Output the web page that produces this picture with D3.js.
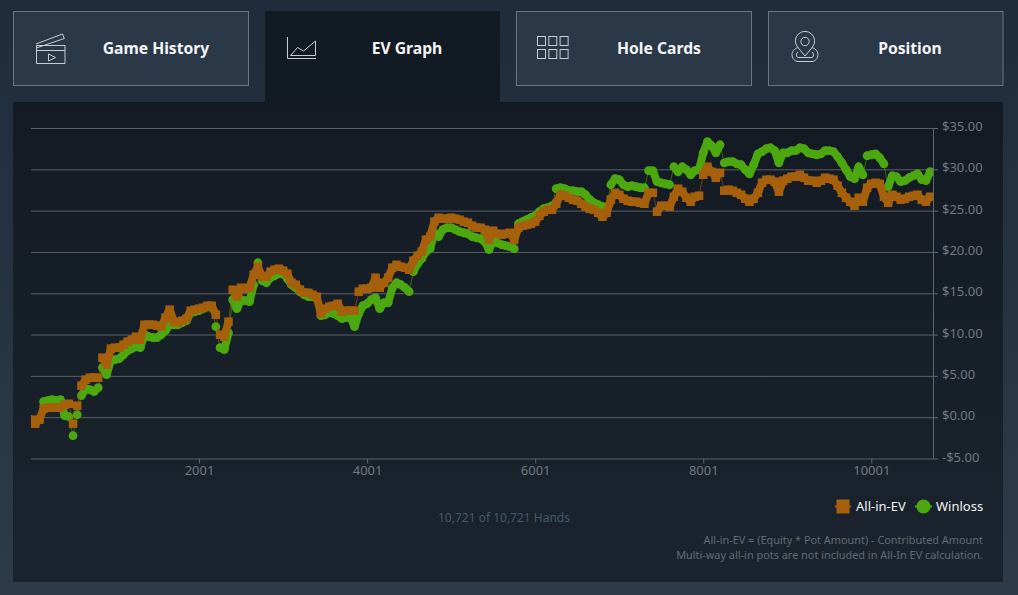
<!DOCTYPE html>
<html>
<head>
<meta charset="utf-8">
<script src="https://cdn.jsdelivr.net/npm/d3@7"></script>
<style>
  html, body { margin: 0; padding: 0; background: #1f2d3d; overflow: hidden; }
  svg { display: block; font-family: "Noto Sans", "Open Sans", sans-serif; }
</style>
</head>
<body>
<svg id="page" width="1018" height="595"></svg>
<script>
const tabNames = ['Game History', 'EV Graph', 'Hole Cards', 'Position']
const yTicks = [-5, 0, 5, 10, 15, 20, 25, 30, 35]
const xTicks = [2001, 4001, 6001, 8001, 10001]
const seriesNames = ['All-in-EV', 'Winloss']
const handsLabel = '10,721 of 10,721 Hands'
const notes = ['All-in-EV = (Equity * Pot Amount) - Contributed Amount', 'Multi-way all-in pots are not included in All-In EV calculation.']

const hands = [
    1, 51, 101, 151, 201, 251, 301, 351, 401, 451,
    501, 551, 601, 651, 701, 751, 801, 851, 901, 951,
    1001, 1051, 1101, 1151, 1201, 1251, 1301, 1351, 1401, 1451,
    1501, 1551, 1601, 1651, 1701, 1751, 1801, 1851, 1901, 1951,
    2001, 2051, 2101, 2151, 2201, 2251, 2301, 2351, 2401, 2451,
    2501, 2551, 2601, 2651, 2701, 2751, 2801, 2851, 2901, 2951,
    3001, 3051, 3101, 3151, 3201, 3251, 3301, 3351, 3401, 3451,
    3501, 3551, 3601, 3651, 3701, 3751, 3801, 3851, 3901, 3951,
    4001, 4051, 4101, 4151, 4201, 4251, 4301, 4351, 4401, 4451,
    4501, 4551, 4601, 4651, 4701, 4751, 4801, 4851, 4901, 4951,
    5001, 5051, 5101, 5151, 5201, 5251, 5301, 5351, 5401, 5451,
    5501, 5551, 5601, 5651, 5701, 5751, 5801, 5851, 5901, 5951,
    6001, 6051, 6101, 6151, 6201, 6251, 6301, 6351, 6401, 6451,
    6501, 6551, 6601, 6651, 6701, 6751, 6801, 6851, 6901, 6951,
    7001, 7051, 7101, 7151, 7201, 7251, 7301, 7351, 7401, 7451,
    7501, 7551, 7601, 7651, 7701, 7751, 7801, 7851, 7901, 7951,
    8001, 8051, 8101, 8151, 8201, 8251, 8301, 8351, 8401, 8451,
    8501, 8551, 8601, 8651, 8701, 8751, 8801, 8851, 8901, 8951,
    9001, 9051, 9101, 9151, 9201, 9251, 9301, 9351, 9401, 9451,
    9501, 9551, 9601, 9651, 9701, 9751, 9801, 9851, 9901, 9951,
    10001, 10051, 10101, 10151, 10201, 10251, 10301, 10351, 10401, 10451,
    10501, 10551, 10601, 10651, 10701
]

const allInEv = [
    -0.30, -0.79, -0.30, 1.03, 1.15, 1.15, 1.15, 1.15, 1.51, 1.63,
    -0.79, 1.39, 3.81, 4.54, 4.78, 4.78, 4.78, 7.20, 6.35, 8.29,
    8.41, 8.41, 8.77, 9.14, 9.38, 9.74, 9.38, 11.19, 11.19, 11.19,
    11.07, 10.95, 12.04, 13.01, 11.56, 11.43, 11.68, 11.92, 12.89, 13.01,
    13.13, 13.25, 13.49, 13.49, 12.40, 9.98, 9.74, 11.56, 15.43, 14.58,
    15.67, 15.55, 15.67, 17.24, 18.21, 17.00, 17.00, 17.61, 17.85, 17.97,
    17.73, 17.36, 16.27, 16.03, 15.43, 15.06, 15.06, 14.82, 14.58, 12.53,
    13.13, 13.37, 13.49, 13.73, 12.77, 12.89, 12.89, 12.89, 15.19, 15.55,
    15.55, 15.67, 16.88, 15.67, 16.27, 16.88, 18.09, 18.45, 18.21, 18.09,
    17.85, 18.94, 19.54, 20.03, 21.48, 21.84, 23.66, 24.14, 24.02, 24.02,
    24.14, 24.02, 23.90, 23.66, 23.53, 23.17, 22.93, 22.93, 22.69, 21.48,
    22.57, 22.20, 22.08, 22.20, 22.32, 21.48, 22.93, 23.17, 23.29, 23.41,
    23.66, 24.38, 24.87, 25.11, 25.11, 25.83, 26.92, 26.80, 26.56, 26.32,
    26.20, 25.83, 25.47, 25.23, 25.11, 24.74, 24.26, 24.74, 26.32, 27.16,
    26.92, 26.44, 26.20, 26.08, 26.08, 25.95, 25.83, 27.16, 27.16, 24.87,
    25.59, 25.59, 25.47, 26.68, 27.65, 27.29, 26.56, 26.08, 26.68, 26.80,
    29.34, 30.31, 29.70, 28.98, 29.58, 27.41, 27.53, 27.41, 27.16, 26.92,
    26.44, 26.08, 26.44, 27.16, 28.37, 28.74, 28.74, 28.50, 27.29, 28.62,
    28.86, 29.10, 29.10, 29.34, 28.98, 28.62, 28.62, 28.37, 28.62, 28.98,
    28.86, 28.74, 28.01, 27.16, 26.56, 26.08, 25.59, 26.56, 26.08, 27.77,
    28.25, 28.37, 28.25, 26.68, 25.95, 26.92, 26.68, 26.32, 26.44, 26.68,
    26.80, 26.92, 26.32, 26.08, 26.68
]

const winloss = [
    -0.30, -0.54, -0.30, 1.88, 2.00, 2.12, 2.00, 2.12, 0.18, 0.06,
    -2.24, 0.30, 2.60, 3.45, 3.33, 3.09, 3.57, 5.99, 5.14, 6.84,
    6.96, 7.08, 7.56, 8.05, 8.29, 8.53, 8.41, 9.98, 9.74, 9.62,
    9.62, 9.98, 10.47, 11.19, 11.19, 11.19, 11.43, 11.68, 12.64, 12.77,
    12.89, 13.13, 13.37, 13.25, 10.95, 8.41, 8.17, 10.22, 14.22, 13.13,
    14.22, 14.10, 13.98, 16.03, 18.69, 16.52, 16.27, 16.88, 17.12, 17.36,
    17.36, 16.76, 16.03, 15.67, 15.19, 14.82, 14.58, 14.58, 14.34, 12.28,
    12.40, 12.64, 12.53, 12.28, 11.92, 12.04, 12.16, 10.95, 12.53, 13.49,
    13.73, 14.22, 14.46, 13.13, 13.85, 13.85, 15.67, 16.27, 16.03, 15.67,
    15.19, 17.61, 18.57, 19.18, 20.03, 20.39, 22.32, 21.84, 22.69, 22.93,
    22.93, 22.69, 22.45, 22.32, 22.20, 21.84, 21.72, 21.60, 21.24, 20.27,
    21.36, 21.11, 20.87, 20.75, 20.63, 20.39, 23.41, 23.66, 23.90, 24.14,
    24.38, 24.87, 25.23, 25.35, 25.59, 27.65, 27.77, 27.65, 27.41, 27.41,
    27.29, 27.29, 26.92, 26.32, 25.95, 25.71, 25.47, 25.47, 28.13, 28.86,
    28.74, 28.13, 27.89, 28.01, 27.89, 27.77, 27.77, 29.83, 29.83, 28.50,
    28.37, 28.25, 28.13, 30.31, 29.70, 30.31, 29.95, 29.34, 29.83, 29.95,
    32.00, 33.34, 32.85, 32.00, 32.97, 30.79, 30.92, 30.92, 30.67, 30.55,
    29.95, 29.46, 30.55, 31.88, 32.13, 32.49, 32.61, 32.25, 30.79, 32.00,
    32.00, 32.25, 32.25, 32.61, 32.49, 32.00, 31.88, 31.76, 31.88, 32.25,
    32.25, 32.13, 31.52, 30.79, 29.95, 29.10, 28.86, 30.31, 29.34, 31.64,
    31.76, 31.88, 31.40, 30.67, 27.89, 29.22, 29.10, 28.50, 28.62, 28.98,
    29.22, 29.46, 28.74, 28.62, 29.71
]

const brown = '#a6600c', green = '#4ca80f'
const svg = d3.select('#page')

// backgrounds
const defs = svg.append('defs')
const grad = (id, a, b) => {
    let g = defs.append('linearGradient').attr('id', id).attr('x2', 0).attr('y2', 1)
    g.append('stop').attr('offset', 0).attr('stop-color', a)
    g.append('stop').attr('offset', 1).attr('stop-color', b)
}
grad('pageBg', '#1e2c3c', '#2e3b48')
grad('panelBg', '#131a24', '#1b242e')

svg.append('rect').attr('width', 1018).attr('height', 595).attr('fill', 'url(#pageBg)')
svg.append('rect').attr('x', 13).attr('y', 102).attr('width', 990).attr('height', 480).attr('fill', 'url(#panelBg)')

// tabs
const tabX = [13, 265, 516, 768]
tabNames.forEach((name, i) => {
    let active = i == 1
    svg.append('rect')
        .attr('x', active ? tabX[i] : tabX[i] + 0.5).attr('y', active ? 11 : 11.5)
        .attr('width', i == 3 ? 234.5 : 235).attr('height', active ? 92 : 74)
        .attr('fill', active ? '#121a24' : '#2a3847')
        .attr('stroke', active ? 'none' : '#6b7681')
    svg.append('text')
        .attr('x', [156, 407, 659, 910][i]).attr('y', 54)
        .attr('text-anchor', 'middle')
        .attr('fill', '#f4f5f6').attr('font-size', 15.7).attr('font-weight', 700)
        .text(name)
})

// tab icons
const icons = svg.append('g').attr('fill', 'none').attr('stroke', '#c9cdd1').attr('stroke-width', 1)
icons.append('path').attr('d', 'M36.5 45.5h28.5v18h-28.5zM36.5 50.5h28.5M36 44l26.5-10 1.800 4.500-28 9.500')
icons.append('path').attr('d', 'M48.5 54l7 3.5-7 3.5z')
icons.append('path').attr('d', 'M287.5 37v21.5h28.5M290.5 55.5l7-8 6 3.5 12-10v14.5z')
d3.range(2).forEach(r => d3.range(3).forEach(c => {
    icons.append('rect').attr('x', 537.5 + c * 11.3).attr('y', 36.5 + r * 13).attr('width', 8).attr('height', 9)
}))
icons.append('circle').attr('cx', 805).attr('cy', 41.5).attr('r', 4.2)
icons.append('path').attr('d', 'M805 56l-7.500-9a9.600 9.600 0 1 1 15 0z')
icons.append('path').attr('d', 'M798 47.500c-4 1.500-6 4-6 7 0 4 3 7 6 7h14c3 0 6-3 6-7 0-3-2-5.500-6-7M798 52c-2 .5-2 5.500 0 5.500h14c2 0 2-5 0-5.500')

// chart
const x = d3.scaleLinear().domain([1, 10741]).range([31, 933.5])
const y = d3.scaleLinear().domain([-5, 35]).range([458.5, 128])

defs.append('clipPath').attr('id', 'plotClip').append('rect')
    .attr('x', 31).attr('y', 120).attr('width', 902).attr('height', 340)

const gridAxis = svg.append('g')
    .attr('transform', 'translate(933,0)')
    .call(d3.axisRight(y).tickValues(yTicks).tickFormat(d => (d < 0 ? '-$' : '$') + Math.abs(d).toFixed(2)).tickSize(5).tickPadding(4))
gridAxis.select('.domain').attr('stroke', '#5f666e').attr('d', 'M0.5,128V458.5')
gridAxis.selectAll('.tick line').attr('stroke', '#5f666e')
gridAxis.selectAll('.tick').append('line')
    .attr('x1', -902).attr('x2', 0).attr('stroke', '#5a6068')
gridAxis.selectAll('text').attr('fill', '#717880').attr('font-size', 13).attr('font-family', '"Noto Sans", sans-serif').attr('dy', '0.2em')

const xAxis = svg.append('g')
    .attr('transform', 'translate(0,458.5)')
    .call(d3.axisBottom(x).tickValues(xTicks).tickFormat(d3.format('d')).tickSize(5).tickPadding(2))
xAxis.select('.domain').remove()
xAxis.selectAll('line').attr('stroke', '#5f666e')
xAxis.selectAll('text').attr('fill', '#717880').attr('font-size', 13).attr('font-family', '"Noto Sans", sans-serif')

// small moves between neighbours read as a solid band, big jumps keep the thin line
const drawSeries = (values, color) => {
    let g = svg.append('g').attr('clip-path', 'url(#plotClip)')
    let links = d3.pairs(values.map((v, i) => [x(hands[i]), y(v)]))
    let small = d => Math.abs(d[0][1] - d[1][1]) < 17
    g.selectAll('line').data(links).join('line')
        .attr('x1', d => d[0][0]).attr('y1', d => d[0][1])
        .attr('x2', d => d[1][0]).attr('y2', d => d[1][1])
        .attr('stroke', color)
        .attr('stroke-opacity', d => small(d) ? 1 : 0.55)
        .attr('stroke-width', d => small(d) ? 8 : 1)
    return g
}

const greenG = drawSeries(winloss, green)
greenG.selectAll('circle').data(winloss).join('circle')
    .attr('cx', (d, i) => x(hands[i])).attr('cy', d => y(d)).attr('r', 4.4).attr('fill', green)

const brownG = drawSeries(allInEv, brown)
brownG.selectAll('rect').data(allInEv).join('rect')
    .attr('x', (d, i) => x(hands[i]) - 4.25).attr('y', d => y(d) - 4.25)
    .attr('width', 8.5).attr('height', 8.5).attr('fill', brown)

// legend
const legend = svg.append('g').attr('font-size', 13).attr('fill', '#f2f3f4')
legend.append('line').attr('x1', 835).attr('x2', 851).attr('y1', 506.5).attr('y2', 506.5).attr('stroke', brown).attr('stroke-width', 2)
legend.append('rect').attr('x', 836.5).attr('y', 499.5).attr('width', 13).attr('height', 14).attr('fill', brown)
legend.append('text').attr('x', 856).attr('y', 510.5).text(seriesNames[0])
legend.append('line').attr('x1', 915).attr('x2', 932).attr('y1', 506.5).attr('y2', 506.5).attr('stroke', green).attr('stroke-width', 2)
legend.append('circle').attr('cx', 923.5).attr('cy', 506.5).attr('r', 7).attr('fill', green)
legend.append('text').attr('x', 936).attr('y', 510.5).text(seriesNames[1])

svg.append('text').attr('x', 504).attr('y', 522).attr('text-anchor', 'middle')
    .attr('font-size', 12).attr('fill', '#44586b').text(handsLabel)

svg.append('g').selectAll('text').data(notes).join('text')
    .attr('x', 983).attr('y', (d, i) => 544 + i * 15).attr('text-anchor', 'end')
    .attr('font-size', 10.9).attr('fill', '#626a73').text(d => d)
</script>
</body>
</html>
